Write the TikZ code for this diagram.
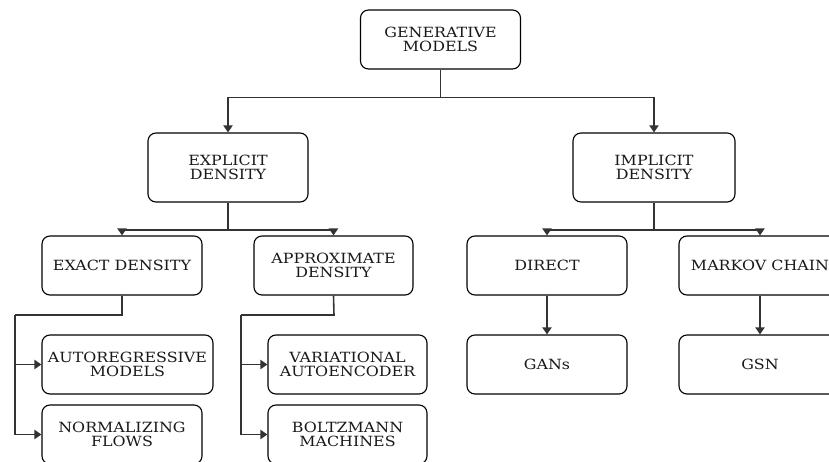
\documentclass[tikz,border=0pt]{standalone}
\usepackage{fontspec}
\setmainfont{DejaVu Serif}[FakeStretch=1.13]
\usetikzlibrary{arrows.meta}

\tikzset{
  box/.style={draw=black, line width=0.65pt, rounded corners=4.5pt, fill=white,
    align=center, inner sep=1pt, font=\fontsize{8pt}{7.6pt}\selectfont,
    text=black!90},
  link/.style={draw=black!80, line width=0.9pt},
  arr/.style={link, -{Triangle[width=5.2pt,length=4pt]}},
}

\begin{document}
\begin{tikzpicture}[x=0.02cm, y=-0.02cm]
  \clip (0,0) rectangle (829,461);
  \fill[white] (0,0) rectangle (829,461);

  % top level
  \node[box, minimum width=3.2cm, minimum height=1.18cm] (gen) at (440.5,39.5) {GENERATIVE\\MODELS};

  % density families
  \node[box, minimum width=3.2cm, minimum height=1.38cm] (expl) at (228,167.5) {EXPLICIT\\DENSITY};
  \node[box, minimum width=3.24cm, minimum height=1.38cm] (impl) at (654,167.5) {IMPLICIT\\DENSITY};

  % second level
  \node[box, minimum width=3.2cm, minimum height=1.18cm] (exact) at (122,265.5) {EXACT DENSITY};
  \node[box, minimum width=3.18cm, minimum height=1.18cm] (approx) at (333.5,265.5) {APPROXIMATE\\DENSITY};
  \node[box, minimum width=3.2cm, minimum height=1.18cm] (direct) at (547,265.5) {DIRECT};
  \node[box, minimum width=3.24cm, minimum height=1.18cm] (markov) at (760,265.5) {MARKOV CHAIN};

  % leaves
  \node[box, minimum width=3.42cm, minimum height=1.18cm] (autoreg) at (127.5,364.5) {AUTOREGRESSIVE\\MODELS};
  \node[box, minimum width=3.2cm, minimum height=1.18cm] (norm) at (122,434.5) {NORMALIZING\\FLOWS};
  \node[box, minimum width=3.18cm, minimum height=1.18cm] (vae) at (347.5,364.5) {VARIATIONAL\\AUTOENCODER};
  \node[box, minimum width=3.18cm, minimum height=1.18cm] (boltz) at (347.5,434.5) {BOLTZMANN\\MACHINES};
  \node[box, minimum width=3.2cm, minimum height=1.18cm] (gans) at (547,364.5) {GANs};
  \node[box, minimum width=3.24cm, minimum height=1.18cm] (gsn) at (760,364.5) {GSN};

  % branch points
  \coordinate (g0) at (440.5,97.5);
  \coordinate (e0) at (228,230);
  \coordinate (i0) at (654,230);
  \coordinate (x0) at (122,315);
  \coordinate (x1) at (15,315);
  \coordinate (a0) at (334,315);
  \coordinate (a1) at (241,315);

  % generative -> explicit / implicit
  \draw[link] (gen.south) -- (g0);
  \draw[arr] (g0) -| (expl.north);
  \draw[arr] (g0) -| (impl.north);

  % explicit -> exact / approximate
  \draw[link] (expl.south) -- (e0);
  \draw[arr] (e0) -| (exact.north);
  \draw[arr] (e0) -| (approx.north);

  % implicit -> direct / markov chain
  \draw[link] (impl.south) -- (i0);
  \draw[arr] (i0) -| (direct.north);
  \draw[arr] (i0) -| (markov.north);

  % exact density -> leaves
  \draw[link] (exact.south) -- (x0) -- (x1);
  \draw[arr] (x1) |- (autoreg.west);
  \draw[arr] (x1) |- (norm.west);

  % approximate density -> leaves
  \draw[link] (approx.south) -- (a0) -- (a1);
  \draw[arr] (a1) |- (vae.west);
  \draw[arr] (a1) |- (boltz.west);

  % implicit leaves
  \draw[arr] (direct.south) -- (gans.north);
  \draw[arr] (markov.south) -- (gsn.north);
\end{tikzpicture}
\end{document}
